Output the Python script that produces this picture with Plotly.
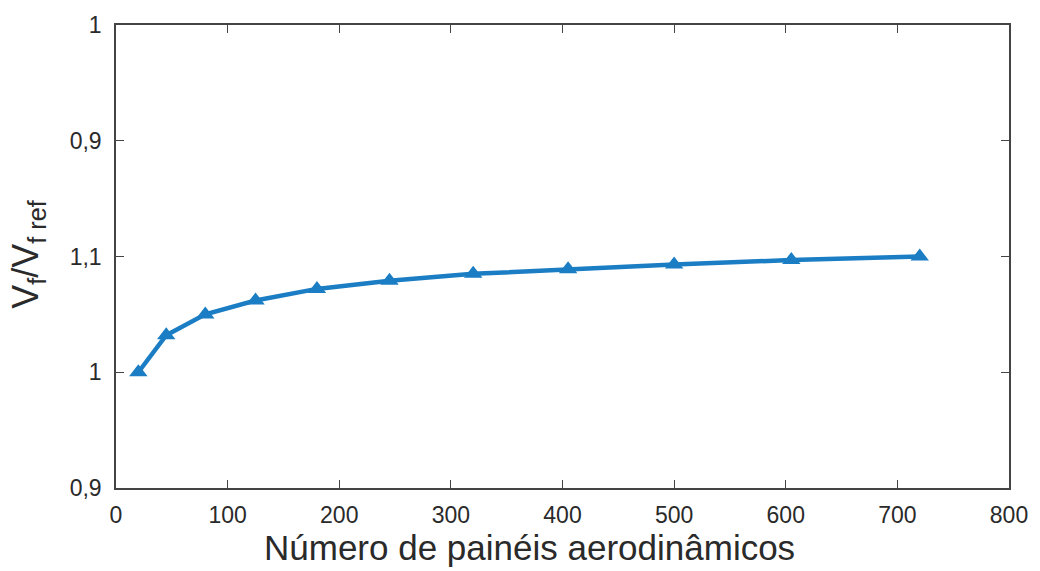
import plotly.graph_objects as go

# Número de painéis aerodinâmicos vs. razão de velocidades de flutter
paineis = [20, 45, 80, 125, 180, 245, 320, 405, 500, 605, 720]
razao_vf = [1.000, 1.032, 1.050, 1.062, 1.072, 1.079, 1.085, 1.089, 1.093, 1.097, 1.100]

x_ticks = [0, 100, 200, 300, 400, 500, 600, 700, 800]
y_tick_vals = [0.9, 1.0, 1.1, 1.2, 1.3]
y_tick_text = ["0,9", "1", "1,1", "0,9", "1"]

azul = "#1b7dc3"
eixo = "#444444"
texto = "#2a2a2a"
familia = "Liberation Sans, Arial, Helvetica, sans-serif"

fig = go.Figure()
fig.add_trace(go.Scatter(
    x=paineis, y=razao_vf,
    mode="lines+markers",
    line=dict(color=azul, width=4.5),
    marker=dict(symbol="triangle-up", size=16, color=azul),
    showlegend=False,
))

font_ticks = dict(family=familia, size=23, color=texto)

fig.update_xaxes(
    range=[0, 800], tickvals=x_ticks, ticks="inside", ticklen=8, tickcolor=eixo,
    showline=True, linecolor=eixo, linewidth=1.5, mirror="ticks",
    showgrid=False, zeroline=False, tickfont=font_ticks, ticklabelstandoff=6,
)
fig.update_yaxes(
    range=[0.9, 1.3], tickvals=y_tick_vals, ticktext=y_tick_text,
    ticks="inside", ticklen=8, tickcolor=eixo,
    showline=True, linecolor=eixo, linewidth=1.5, mirror="ticks",
    showgrid=False, zeroline=False, tickfont=font_ticks, ticklabelstandoff=8,
)

# Axis titles
fig.add_annotation(
    text="Número de painéis aerodinâmicos",
    xref="paper", yref="paper", x=0.4634, y=-0.128,
    xanchor="center", yanchor="middle", showarrow=False,
    font=dict(family=familia, size=35, color=texto),
)
fig.add_annotation(
    text="V<sub>f</sub>/V<sub>f ref</sub>",
    xref="paper", yref="paper", x=-0.098, y=0.505,
    xanchor="center", yanchor="middle", showarrow=False, textangle=-90,
    font=dict(family=familia, size=36, color=texto),
)

fig.update_layout(
    width=1040, height=571,
    margin=dict(l=116, r=22, t=20, b=83),
    plot_bgcolor="white", paper_bgcolor="white",
)

fig.write_html("out.html")
